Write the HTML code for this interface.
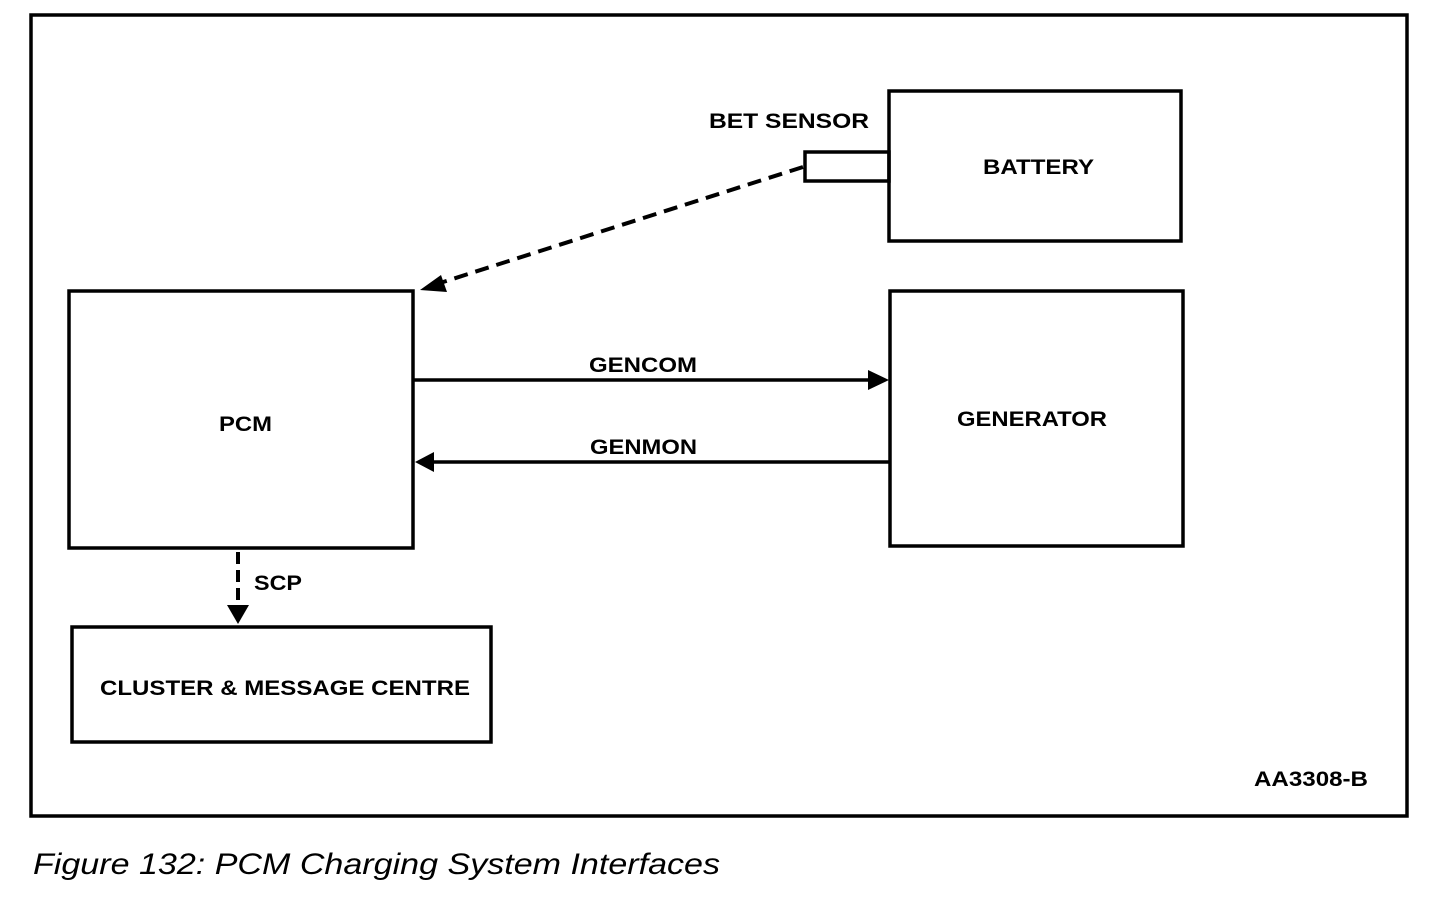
<!DOCTYPE html>
<html><head><meta charset="utf-8"><style>
html,body{margin:0;padding:0;background:#fff;}
svg{display:block;}
text{font-family:"Liberation Sans",Arial,sans-serif;fill:#000;}
.b{font-weight:bold;font-size:21px;}
</style></head><body>
<svg width="1440" height="914" viewBox="0 0 1440 914" xmlns="http://www.w3.org/2000/svg">
<g fill="none" stroke="#000" stroke-width="3.5">
<rect x="31" y="15" width="1376" height="801"/>
<rect x="889" y="91" width="292" height="150"/>
<rect x="805" y="152" width="84" height="29"/>
<rect x="69" y="291" width="344" height="257"/>
<rect x="890" y="291" width="293" height="255"/>
<rect x="72" y="627" width="419" height="115"/>
<line x1="413" y1="380" x2="872" y2="380"/>
<line x1="432" y1="462" x2="889" y2="462"/>
<line x1="803" y1="167" x2="440" y2="283" stroke-dasharray="14,8" stroke-width="4"/>
<line x1="238" y1="552" x2="238" y2="607" stroke-dasharray="12,6" stroke-width="4"/>
</g>
<g fill="#000">
<polygon points="889,380 868,370 868,390"/>
<polygon points="415,462 434,452 434,472"/>
<polygon points="420,290 441,275 447,292"/>
<polygon points="238,624 227,605 249,605"/>
</g>
<g lengthAdjust="spacingAndGlyphs">
<text class="b" x="709" y="128" textLength="160" lengthAdjust="spacingAndGlyphs">BET SENSOR</text>
<text class="b" x="983" y="174" textLength="111" lengthAdjust="spacingAndGlyphs">BATTERY</text>
<text class="b" x="219" y="431" textLength="53" lengthAdjust="spacingAndGlyphs">PCM</text>
<text class="b" x="589" y="372" textLength="108" lengthAdjust="spacingAndGlyphs">GENCOM</text>
<text class="b" x="590" y="454" textLength="107" lengthAdjust="spacingAndGlyphs">GENMON</text>
<text class="b" x="957" y="426" textLength="150" lengthAdjust="spacingAndGlyphs">GENERATOR</text>
<text class="b" x="254" y="590" textLength="48" lengthAdjust="spacingAndGlyphs">SCP</text>
<text class="b" x="100" y="695" textLength="370" lengthAdjust="spacingAndGlyphs">CLUSTER &amp; MESSAGE CENTRE</text>
<text class="b" x="1254" y="786" textLength="114" lengthAdjust="spacingAndGlyphs">AA3308-B</text>
<text x="33" y="874" font-size="30" font-style="italic" textLength="687" lengthAdjust="spacingAndGlyphs">Figure 132: PCM Charging System Interfaces</text>
</g>
</svg>
</body></html>
